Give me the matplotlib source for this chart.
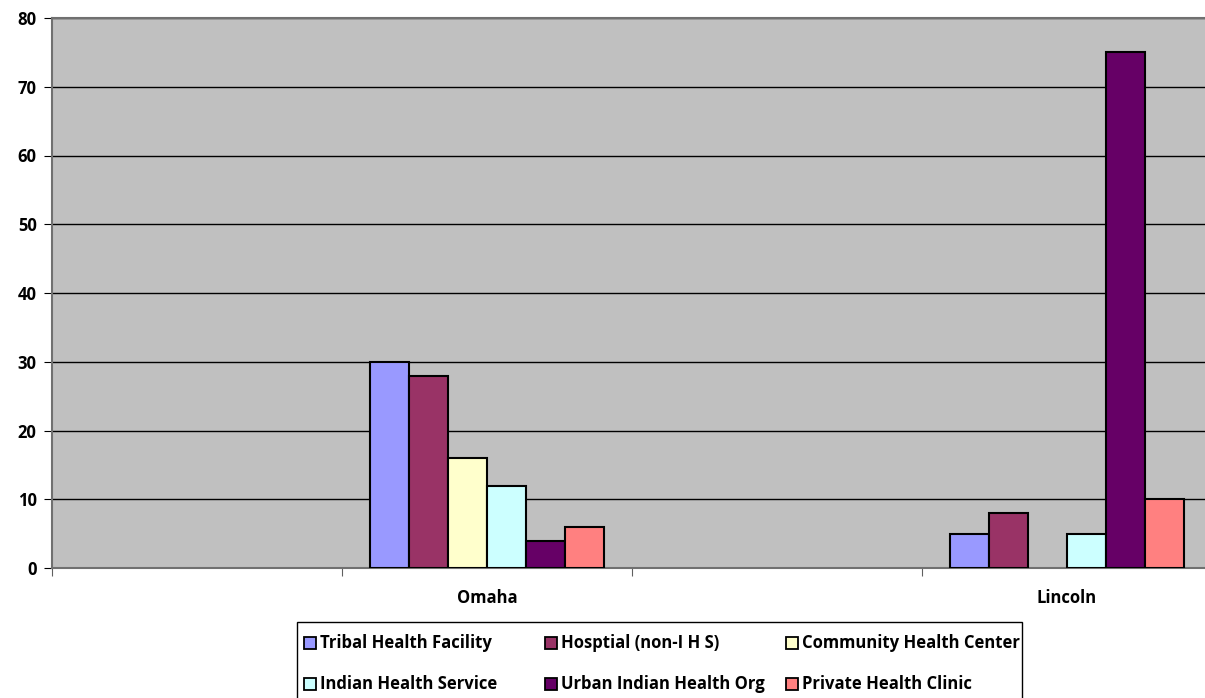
import numpy as np
import matplotlib.pyplot as plt
from matplotlib.patches import Rectangle

plt.rcParams['font.family'] = ['Open Sans', 'DejaVu Sans']
plt.rcParams['font.weight'] = 'bold'

categories = ["", "Omaha", "", "Lincoln"]
series = ["Tribal Health Facility", "Hosptial (non-I H S)", "Community Health Center",
          "Indian Health Service", "Urban Indian Health Org", "Private Health Clinic"]
colors = ["#9999FF", "#993366", "#FFFFCC", "#CCFFFF", "#660066", "#FF8080"]
tribal = [0, 30, 0, 5]
hospital = [0, 28, 0, 8]
community = [0, 16, 0, 0]
ihs = [0, 12, 0, 5]
urban = [0, 4, 0, 75]
private = [0, 6, 0, 10]
values = [tribal, hospital, community, ihs, urban, private]

W, H = 1205, 698
fig = plt.figure(figsize=(W / 100, H / 100), dpi=100)
ax = fig.add_axes([52 / W, 130 / H, 1 - 52 / W, 550 / H])
ax.set_facecolor("#C0C0C0")

x = np.arange(len(categories)) + 0.5
w = 0.134
for i, (name, vals) in enumerate(zip(series, values)):
    offs = (i - 2.5) * w
    for xi, v in zip(x, vals):
        if v > 0:
            ax.bar(xi + offs, v, w, color=colors[i], edgecolor="black", linewidth=1.5, zorder=3)

ax.set_xlim(0, (W - 52) / 290)
ax.set_ylim(0, 80)
ax.set_yticks(range(0, 81, 10))
ax.yaxis.grid(True, color="black", linewidth=1, zorder=1)
ax.set_axisbelow(True)
ax.set_xticks(np.arange(len(categories)))
ax.set_xticks(x, minor=True)
ax.set_xticklabels([])
ax.set_xticklabels(categories, minor=True)
ax.tick_params(axis="x", which="minor", length=0, pad=15, labelsize=12)
ax.tick_params(axis="x", which="major", length=6, color="#606060")
ax.tick_params(axis="y", length=6, labelsize=12, color="black", pad=5)
for s in ["left", "bottom", "top"]:
    ax.spines[s].set_color("#707070")
    ax.spines[s].set_linewidth(1.5)
ax.spines["right"].set_visible(False)

# legend drawn by hand: three equal columns, filled row by row
fig.patches.append(Rectangle((297 / W, -10 / H), 725 / W, (H - 622 + 10) / H,
                             transform=fig.transFigure, facecolor="white",
                             edgecolor="black", linewidth=1))
col_x = [304, 545, 786]
row_y = [643, 684]
for k, (name, c) in enumerate(zip(series, colors)):
    px = col_x[k % 3]
    py = row_y[k // 3]
    fig.patches.append(Rectangle((px / W, (H - py - 6) / H), 12 / W, 12 / H,
                                 transform=fig.transFigure, facecolor=c,
                                 edgecolor="black", linewidth=1.3))
    fig.text((px + 16) / W, (H - py) / H, name, fontsize=12, weight="bold",
             va="center", ha="left")

fig.savefig("out.png", dpi=100)
